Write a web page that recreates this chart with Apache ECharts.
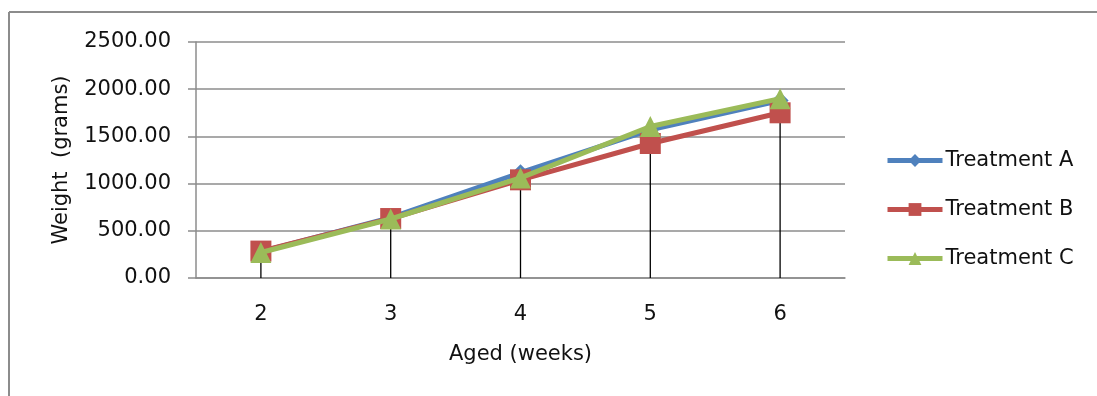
<!DOCTYPE html>
<html>
<head>
<meta charset="utf-8">
<script src="https://cdn.jsdelivr.net/npm/echarts@6/dist/echarts.min.js"></script>
<style>
  html, body { margin: 0; padding: 0; background: #fff; }
  #main { width: 1097px; height: 396px; }
</style>
</head>
<body>
<div id="main"></div>
<script>
var weeks = ['2', '3', '4', '5', '6'];
var treatmentA = [280, 640, 1115, 1570, 1880];
var treatmentB = [285, 630, 1040, 1425, 1750];
var treatmentC = [270, 625, 1060, 1605, 1900];

// drop lines go from the highest point down to the axis
var dropTop = weeks.map(function (w, i) {
    return Math.max(treatmentA[i], treatmentB[i], treatmentC[i]);
});

var font = 'DejaVu Sans';
var txt = '#111';
var myChart = echarts.init(document.getElementById('main'));

var option = {
    animation: false,
    backgroundColor: '#fff',
    textStyle: { fontFamily: font },
    graphic: [
        { type: 'line', shape: { x1: 9, y1: 12, x2: 1097, y2: 12 }, style: { stroke: '#8c8c8c', lineWidth: 2 } },
        { type: 'line', shape: { x1: 9, y1: 12, x2: 9, y2: 396 }, style: { stroke: '#8c8c8c', lineWidth: 2 } }
    ],
    grid: { left: 196, right: 252, top: 42, bottom: 118 },
    legend: {
        orient: 'vertical',
        left: 880,
        top: 145,
        itemWidth: 55,
        itemHeight: 16,
        itemGap: 28,
        lineStyle: { width: 5 },
        textStyle: { fontFamily: font, fontSize: 21, color: txt, padding: [0, 0, 0, -2] },
        data: ['Treatment A', 'Treatment B', 'Treatment C']
    },
    xAxis: {
        type: 'category',
        data: weeks,
        boundaryGap: true,
        name: 'Aged (weeks)',
        nameLocation: 'middle',
        nameGap: 66,
        nameTextStyle: { fontFamily: font, fontSize: 21, color: txt },
        axisLine: { lineStyle: { color: '#8c8c8c', width: 1.5 } },
        axisTick: { show: false },
        axisLabel: { fontFamily: font, fontSize: 21, color: txt, margin: 26 }
    },
    yAxis: {
        type: 'value',
        min: 0,
        max: 2500,
        interval: 500,
        name: 'Weight  (grams)',
        nameLocation: 'middle',
        nameGap: 124,
        nameTextStyle: { fontFamily: font, fontSize: 21, color: txt },
        axisLine: { show: true, lineStyle: { color: '#8c8c8c', width: 1.5 } },
        axisTick: { show: true, length: 8, lineStyle: { color: '#8c8c8c', width: 1.5 } },
        splitLine: { lineStyle: { color: '#8c8c8c', width: 1.5 } },
        axisLabel: {
            fontFamily: font, fontSize: 21, color: txt, margin: 25,
            formatter: function (v) { return v.toFixed(2); }
        }
    },
    series: [
        {
            name: 'drop',
            type: 'custom',
            z: 1,
            silent: true,
            data: dropTop.map(function (v, i) { return [i, v]; }),
            renderItem: function (params, api) {
                var top = api.coord([api.value(0), api.value(1)]);
                var bottom = api.coord([api.value(0), 0]);
                return {
                    type: 'line',
                    shape: { x1: top[0], y1: top[1], x2: bottom[0], y2: bottom[1] },
                    style: { stroke: '#000', lineWidth: 1.3 }
                };
            }
        },
        {
            name: 'Treatment A',
            type: 'line',
            data: treatmentA,
            symbol: 'diamond',
            symbolSize: 17,
            z: 2,
            itemStyle: { color: '#4F81BD' },
            lineStyle: { color: '#4F81BD', width: 5 }
        },
        {
            name: 'Treatment B',
            type: 'line',
            data: treatmentB,
            symbol: 'rect',
            symbolSize: 21,
            z: 3,
            itemStyle: { color: '#C0504D' },
            lineStyle: { color: '#C0504D', width: 5 }
        },
        {
            name: 'Treatment C',
            type: 'line',
            data: treatmentC,
            symbol: 'triangle',
            symbolSize: 21,
            z: 4,
            itemStyle: { color: '#9BBB59' },
            lineStyle: { color: '#9BBB59', width: 5 }
        }
    ]
};
myChart.setOption(option);
</script>
</body>
</html>
